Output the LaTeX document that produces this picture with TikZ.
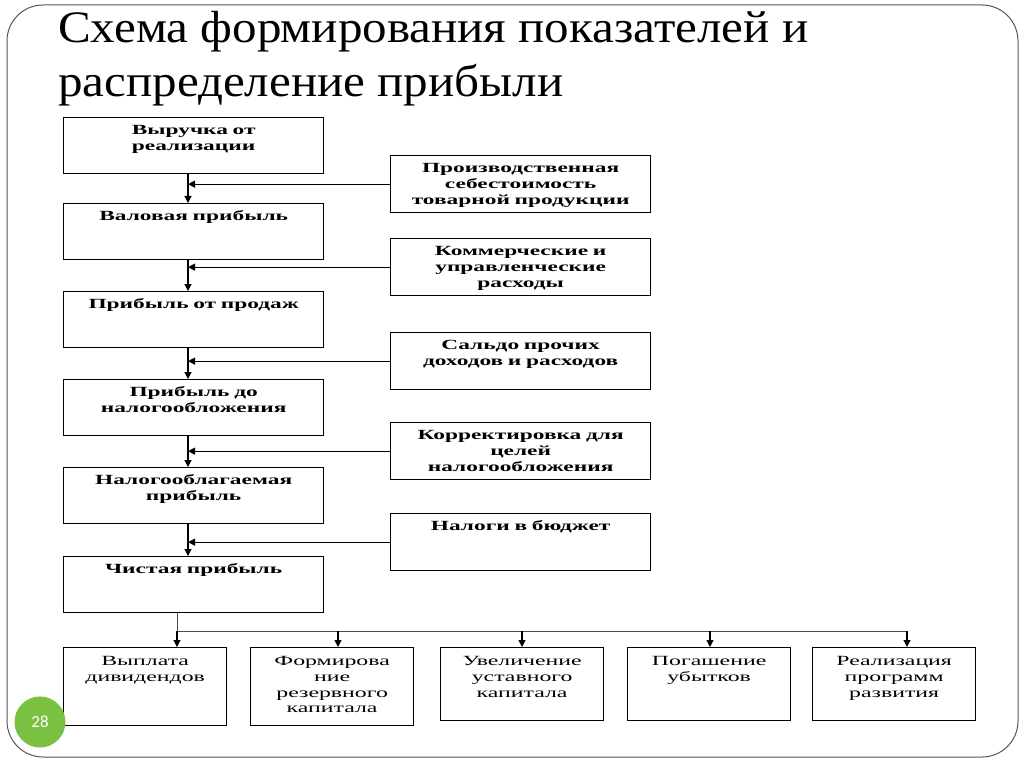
\documentclass[tikz,border=0pt]{standalone}
\usepackage{fontspec}
\setmainfont{Liberation Serif}
\newfontfamily\boxfont[FakeStretch=1.67]{Liberation Serif}
\newfontfamily\dboxfont[FakeStretch=1.7]{Liberation Serif}
\newfontfamily\titlefont[FakeStretch=1.09]{Liberation Serif}
\newfontfamily\numfont{Carlito}
\usetikzlibrary{positioning,arrows.meta}
\definecolor{slidegreen}{RGB}{122,193,66}
\definecolor{framegray}{RGB}{85,85,85}

\tikzset{
  lbox/.style={draw, line width=1.3pt, anchor=north west, text width=254pt, align=center,
    inner xsep=3pt, inner ysep=3pt, text height=14pt, text depth=36pt,
    font=\boxfont\bfseries\fontsize{14}{16}\selectfont},
  rbox/.style={lbox, text depth=37pt},
  dbox/.style={draw, line width=1.3pt, anchor=north west, text width=157pt, align=center,
    inner xsep=3pt, inner ysep=3pt, text height=15pt, text depth=#1,
    font=\dboxfont\fontsize{14}{15.7}\selectfont},
  arr/.style={-{Triangle[length=7pt,width=7pt]}, line width=1.1pt},
  bus/.style={line width=1pt, gray!60!black}
}

\begin{document}
\begin{tikzpicture}[x=1pt,y=-1pt]
  \useasboundingbox (0,0) rectangle (1024,767);
  \draw[framegray, line width=1pt, rounded corners=36pt] (7,5) rectangle (1018,757);
  \node[anchor=base west, align=left, inner sep=0pt,
    font=\titlefont\fontsize{45}{54}\selectfont] (title) at (58,97)
    {Схема формирования показателей и\\распределение прибыли};

  \node[lbox] (rev) at (63,117) {Выручка от\\реализации};
  \node[lbox] (gross) at (63,203) {Валовая прибыль};
  \node[lbox] (sales) at (63,291) {Прибыль от продаж};
  \node[lbox] (pretax) at (63,379) {Прибыль до\\налогообложения};
  \node[lbox] (taxable) at (63,467) {Налогооблагаемая\\прибыль};
  \node[lbox] (net) at (63,556) {Чистая прибыль};

  \node[rbox] (cost) at (390,155) {Производственная\\себестоимость\\товарной продукции};
  \node[rbox] (admin) at (390,238) {Коммерческие и\\управленческие\\расходы};
  \node[rbox] (other) at (390,332) {Сальдо прочих\\доходов и расходов};
  \node[rbox] (adjust) at (390,422) {Корректировка для\\целей\\налогообложения};
  \node[rbox] (taxes) at (390,513) {Налоги в бюджет};

  \node[dbox=57pt] (div) at (63,647) {Выплата\\дивидендов};
  \node[dbox=57pt] (reserve) at (250,647) {Формирова\\ние\\резервного\\капитала};
  \node[dbox=52pt] (capital) at (440,647) {Увеличение\\уставного\\капитала};
  \node[dbox=52pt] (loss) at (627,647) {Погашение\\убытков};
  \node[dbox=52pt] (dev) at (812,647) {Реализация\\программ\\развития};

  \coordinate (spine) at (188,0);
  \foreach \a/\b in {rev/gross,gross/sales,sales/pretax,pretax/taxable,taxable/net}
    \draw[arr] (\a.south -| spine) -- (\b.north -| spine);
  \foreach \r in {cost,admin,other,adjust,taxes}
    \draw[arr] (\r.west) -- (\r.west -| spine);

  \coordinate (tap1) at (177,631);
  \coordinate (tap2) at (338,631);
  \coordinate (tap3) at (522,631);
  \coordinate (tap4) at (710,631);
  \coordinate (tap5) at (907,631);
  \draw[bus] (net.south -| tap1) -- (tap1) -- (tap5);
  \foreach \t/\d in {tap1/div,tap2/reserve,tap3/capital,tap4/loss,tap5/dev}
    \draw[arr] (\t) -- (\t |- \d.north);

  \node[circle, fill=slidegreen, minimum size=51pt, text=white,
    font=\numfont\fontsize{17}{17}\selectfont] (page) at (40,722) {28};
\end{tikzpicture}
\end{document}
